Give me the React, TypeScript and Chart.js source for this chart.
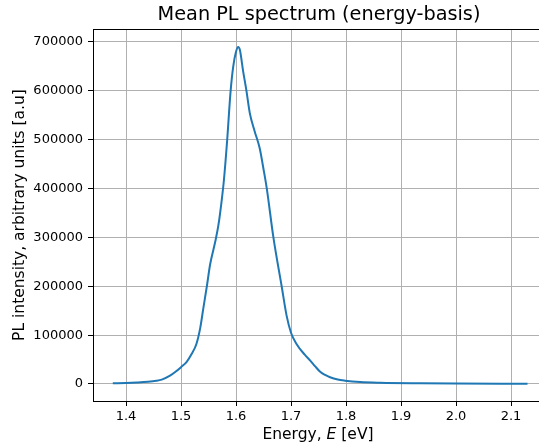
import React, { useEffect, useRef } from "react";
import { Chart, registerables } from "chart.js";

Chart.register(...registerables);

const TITLE = "Mean PL spectrum (energy-basis)";
const Y_LABEL = "PL intensity, arbitrary units [a.u]";

const energy = [
  1.376, 1.4, 1.42, 1.44, 1.455, 1.465, 1.48, 1.49, 1.5, 1.51, 1.519, 1.528,
  1.535, 1.541, 1.547, 1.553, 1.562, 1.568, 1.574, 1.578, 1.584, 1.59, 1.595,
  1.6, 1.604, 1.607, 1.613, 1.619, 1.625, 1.634, 1.643, 1.65, 1.656, 1.668,
  1.683, 1.692, 1.7, 1.71, 1.725, 1.735, 1.744, 1.753, 1.762, 1.771, 1.785,
  1.798, 1.826, 1.862, 1.935, 2.0, 2.13,
];
const intensity = [
  1300, 2000, 3000, 4500, 6500, 9000, 17000, 25000, 34500, 45000, 61000,
  82000, 115000, 158000, 200000, 245000, 290000, 325000, 376000, 417000,
  500000, 597000, 650000, 680000, 690000, 684000, 640000, 600000, 555000,
  517000, 483000, 440000, 400000, 300000, 200000, 140000, 105000, 82000,
  60000, 48000, 36000, 25000, 18500, 13700, 9000, 6800, 4000, 2600, 1500,
  1000, 500,
];
const xTicks = [1.4, 1.5, 1.6, 1.7, 1.8, 1.9, 2.0, 2.1];
const yTicks = [0, 100000, 200000, 300000, 400000, 500000, 600000, 700000];

const X_MIN = 1.34;
const X_MAX = 2.1509;
const Y_MIN = -34800;
const Y_MAX = 726600;

const FONT = '"DejaVu Sans", sans-serif';

export default function App() {
  const ref = useRef<HTMLCanvasElement>(null);

  useEffect(() => {
    if (!ref.current) return;
    const textPlugin = {
      id: "texts",
      afterDraw(chart: any) {
        const ctx = chart.ctx as CanvasRenderingContext2D;
        const a = chart.chartArea;
        ctx.save();
        ctx.strokeStyle = "#000";
        ctx.lineWidth = 1;
        ctx.beginPath();
        ctx.moveTo(a.left, a.top + 0.5);
        ctx.lineTo(a.right, a.top + 0.5);
        ctx.stroke();

        ctx.fillStyle = "#000";
        ctx.textBaseline = "middle";
        ctx.textAlign = "center";
        ctx.font = `19.3px ${FONT}`;
        ctx.fillText(TITLE, 319, 15);

        // x label with italic E
        const p1 = "Energy, ";
        const p2 = "E";
        const p3 = " [eV]";
        const fs = 15.5;
        ctx.font = `${fs}px ${FONT}`;
        const w1 = ctx.measureText(p1).width;
        const w3 = ctx.measureText(p3).width;
        ctx.font = `italic ${fs}px ${FONT}`;
        const w2 = ctx.measureText(p2).width;
        const total = w1 + w2 + w3;
        let x = 318 - total / 2;
        const y = 435;
        ctx.textAlign = "left";
        ctx.font = `${fs}px ${FONT}`;
        ctx.fillText(p1, x, y);
        x += w1;
        ctx.font = `italic ${fs}px ${FONT}`;
        ctx.fillText(p2, x, y);
        x += w2;
        ctx.font = `${fs}px ${FONT}`;
        ctx.fillText(p3, x, y);

        ctx.translate(20, 215);
        ctx.rotate(-Math.PI / 2);
        ctx.textAlign = "center";
        ctx.fillText(Y_LABEL, 0, 0);
        ctx.restore();
      },
    };

    const chart = new Chart(ref.current, {
      type: "line",
      data: {
        datasets: [
          {
            data: energy.map((e, i) => ({ x: e, y: intensity[i] })),
            borderColor: "#1f77b4",
            borderWidth: 2,
            pointRadius: 0,
            cubicInterpolationMode: "monotone",
            fill: false,
          },
        ],
      },
      options: {
        responsive: false,
        animation: false,
        devicePixelRatio: 1,
        layout: { padding: { top: 29, left: 0, right: 0, bottom: 0 } },
        plugins: {
          legend: { display: false },
          tooltip: { enabled: false },
          title: { display: false },
        },
        scales: {
          x: {
            type: "linear",
            min: X_MIN,
            max: X_MAX,
            afterBuildTicks: (s: any) => {
              s.ticks = xTicks.map((v) => ({ value: v }));
            },
            afterFit: (s: any) => {
              s.height = 47;
            },
            grid: {
              color: "#b0b0b0",
              lineWidth: 1,
              drawTicks: true,
              tickLength: 5,
              tickColor: "#000",
            },
            border: { color: "#000", width: 1 },
            ticks: {
              color: "#000",
              font: { family: FONT, size: 13 },
              padding: 3,
              maxRotation: 0,
              autoSkip: false,
              callback: (v: any) => Number(v).toFixed(1),
            },
          },
          y: {
            type: "linear",
            min: Y_MIN,
            max: Y_MAX,
            afterBuildTicks: (s: any) => {
              s.ticks = yTicks.map((v) => ({ value: v }));
            },
            afterFit: (s: any) => {
              s.width = 93;
            },
            grid: {
              color: "#b0b0b0",
              lineWidth: 1,
              drawTicks: true,
              tickLength: 5,
              tickColor: "#000",
            },
            border: { color: "#000", width: 1 },
            ticks: {
              color: "#000",
              font: { family: FONT, size: 13 },
              padding: 5,
              autoSkip: false,
              callback: (v: any) => String(v),
            },
          },
        },
      },
      plugins: [textPlugin],
    });
    return () => chart.destroy();
  }, []);

  return (
    <canvas
      ref={ref}
      width={539}
      height={448}
      style={{ position: "absolute", left: 0, top: 0 }}
    />
  );
}
